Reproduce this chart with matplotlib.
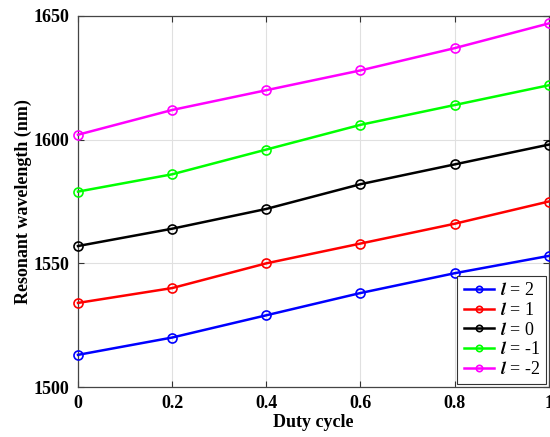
import matplotlib
matplotlib.use('Agg')
from matplotlib import pyplot as plt

duty = [0, 0.2, 0.4, 0.6, 0.8, 1.0]
l_2 = [1513, 1520, 1529, 1538, 1546, 1553]
l_1 = [1534, 1540, 1550, 1558, 1566, 1575]
l_0 = [1557, 1564, 1572, 1582, 1590, 1598]
l_m1 = [1579, 1586, 1596, 1606, 1614, 1622]
l_m2 = [1602, 1612, 1620, 1628, 1637, 1647]

series = [(l_2, '2', '#0000ff'), (l_1, '1', '#ff0000'), (l_0, '0', '#000000'),
          (l_m1, '-1', '#00ff00'), (l_m2, '-2', '#ff00ff')]

plt.rcParams['font.family'] = ['Liberation Serif', 'DejaVu Serif']
plt.rcParams['mathtext.fontset'] = 'stix'

fig = plt.figure(figsize=(5.5, 4.37), dpi=100)
ax = fig.add_axes([0.1418, 0.1144, 0.856, 0.849])

for vals, lab, col in series:
    ax.plot(duty, vals, '-o', color=col, lw=1.8, ms=6.5, mfc='none', mew=1.2,
            label=r'$\mathbfit{l}$ = ' + lab, clip_on=False, zorder=3)

ax.set_xlim(0, 1)
ax.set_ylim(1500, 1650)
ax.set_xticks([0, 0.2, 0.4, 0.6, 0.8, 1])
ax.set_xticklabels(['0', '0.2', '0.4', '0.6', '0.8', '1'])
ax.set_yticks([1500, 1550, 1600, 1650])
ax.grid(True, color='#e0e0e0', lw=0.8)
ax.set_axisbelow(True)
ax.tick_params(direction='in', top=True, right=True, length=4, width=0.8,
               labelsize=13, color='#333333', pad=6)
for lbl in ax.get_xticklabels() + ax.get_yticklabels():
    lbl.set_fontweight('bold')
for sp in ax.spines.values():
    sp.set_color('#444444')
    sp.set_linewidth(0.9)

ax.set_xlabel('Duty cycle', fontsize=13, fontweight='bold', labelpad=1)
ax.set_ylabel('Resonant wavelength (nm)', fontsize=13, fontweight='bold', labelpad=1)

leg = ax.legend(loc='lower right', fontsize=13, fancybox=False, framealpha=1,
                edgecolor='#333333', markerscale=0.7, handlelength=1.7,
                labelspacing=0.15, borderpad=0.35, handletextpad=0.3,
                borderaxespad=0.15)
leg.get_frame().set_linewidth(0.8)

plt.savefig('out.png', dpi=100)
